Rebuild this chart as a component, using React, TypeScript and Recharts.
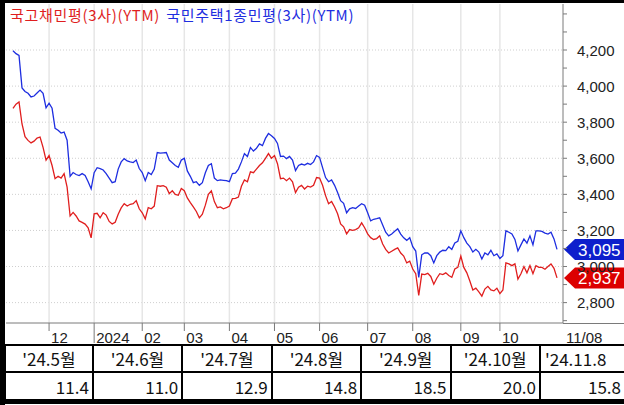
import { LineChart, Line, XAxis, YAxis, CartesianGrid, ReferenceDot } from 'recharts'

// 국고채 / 국민주택1종 민평 3사 YTM, one value per observation
const blueYtm = [
  4196, 4180, 4170, 3990, 3970, 3960, 3940, 3945, 3962, 3978, 3960, 3880, 3905, 3877, 3766, 3755,
  3740, 3745, 3700, 3500, 3521, 3510, 3504, 3515, 3505, 3470, 3431, 3520, 3548, 3543, 3535, 3515,
  3490, 3465, 3470, 3540, 3580, 3598, 3585, 3580, 3576, 3590, 3543, 3521, 3476, 3521, 3510, 3540,
  3632, 3628, 3630, 3632, 3590, 3575, 3560, 3550, 3590, 3600, 3530, 3500, 3465, 3470, 3450, 3465,
  3520, 3560, 3570, 3490, 3476, 3480, 3478, 3476, 3470, 3515, 3518, 3540, 3580, 3626, 3610, 3660,
  3640, 3655, 3680, 3670, 3710, 3737, 3725, 3710, 3682, 3610, 3612, 3598, 3610, 3590, 3532, 3560,
  3568, 3562, 3572, 3565, 3580, 3615, 3605, 3548, 3493, 3470, 3480, 3450, 3410, 3365, 3350, 3298,
  3320, 3326, 3322, 3335, 3348, 3340, 3298, 3253, 3262, 3265, 3270, 3230, 3190, 3170, 3180, 3195,
  3209, 3180, 3159, 3145, 3160, 3110, 3086, 2940, 3065, 3075, 3075, 3060, 3020, 3060, 3080, 3090,
  3088, 3110, 3095, 3131, 3140, 3198, 3160, 3130, 3110, 3080, 3095, 3080, 3042, 3075, 3065, 3090,
  3060, 3070, 3045, 3060, 3198, 3190, 3180, 3150, 3086, 3120, 3153, 3130, 3170, 3120, 3198, 3198,
  3195, 3185, 3180, 3190, 3153, 3095
]
const redYtm = [
  3877, 3900, 3912, 3790, 3720, 3699, 3685, 3695, 3712, 3718, 3660, 3590, 3615, 3560, 3487, 3500,
  3490, 3515, 3440, 3280, 3300, 3280, 3253, 3245, 3235, 3215, 3159, 3292, 3295, 3270, 3298, 3285,
  3250, 3236, 3245, 3290, 3325, 3348, 3335, 3345, 3348, 3365, 3320, 3298, 3264, 3326, 3320, 3335,
  3448, 3445, 3448, 3440, 3404, 3420, 3400, 3395, 3432, 3420, 3380, 3354, 3330, 3305, 3270, 3290,
  3340, 3400, 3420, 3360, 3326, 3330, 3320, 3326, 3335, 3376, 3378, 3385, 3445, 3480, 3470, 3525,
  3520, 3540, 3560, 3575, 3600, 3626, 3600, 3615, 3570, 3487, 3490, 3476, 3490, 3470, 3410, 3440,
  3450, 3430, 3445, 3440, 3450, 3493, 3490, 3450, 3393, 3348, 3360, 3330, 3292, 3236, 3220, 3181,
  3205, 3200, 3205, 3215, 3242, 3215, 3181, 3160, 3150, 3155, 3170, 3125, 3095, 3075, 3085, 3095,
  3103, 3075, 3058, 3020, 3030, 2986, 2960, 2840, 2958, 2955, 2962, 2945, 2902, 2935, 2960, 2955,
  2965, 2950, 2940, 2986, 2995, 3058, 2995, 2965, 2920, 2870, 2880, 2860, 2836, 2875, 2890, 2870,
  2865, 2880, 2850, 2870, 3020, 3015, 3005, 3015, 2930, 2960, 3000, 2965, 3005, 2960, 3005, 2995,
  2995, 2985, 3000, 3014, 2990, 2937
]

// index of the first observation in each month, and its label
const monthIdx = [12, 27, 43, 57, 72, 87, 102, 118, 133, 149, 162]
const monthLabels = ['12', '2024', '02', '03', '04', '05', '06', '07', '08', '09', '10']
const endLabel = '11/08'

const yMajor = [2800, 3000, 3200, 3400, 3600, 3800, 4000, 4200]
const yMinor = [2700, 2800, 2900, 3000, 3100, 3200, 3300, 3400, 3500, 3600, 3700, 3800, 3900, 4000, 4100, 4200, 4300, 4400]

const legendRed = '국고채민평(3사)(YTM)'
const legendBlue = '국민주택1종민평(3사)(YTM)'

const tableHeads = ["'24.5월", "'24.6월", "'24.7월", "'24.8월", "'24.9월", "'24.10월", "'24.11.8"]
const tableValues = ['11.4', '11.0', '12.9', '14.8', '18.5', '20.0', '15.8']

const RED = '#e01e1e'
const BLUE = '#1e2ee0'
const AXIS = '#7a7a7a'
const NARROW = '"Liberation Sans Narrow", "Liberation Sans", Arial, sans-serif'
const KR = '"Noto Sans CJK KR", "Noto Sans", sans-serif'

const lastIdx = blueYtm.length - 1
const data = blueYtm.map((b, i) => ({ i, blue: b, red: redYtm[i] }))

function MonthTick(props: any) {
  const { x, y, payload } = props
  const k = monthIdx.indexOf(payload.value)
  if (k < 0) {
    return (
      <text x={x + 9} y={y + 14} fontSize={15} fontFamily={NARROW} fill="#222" dominantBaseline="central">
        {endLabel}
      </text>
    )
  }
  const len = monthLabels[k] === '2024' ? 20 : 8
  return (
    <g>
      <line x1={x} x2={x} y1={y} y2={y + len} stroke={AXIS} />
      <text x={x + 2} y={y + 14} fontSize={15} fontFamily={NARROW} fill="#222" dominantBaseline="central">
        {monthLabels[k]}
      </text>
    </g>
  )
}

function PriceTick(props: any) {
  const { x, y, payload } = props
  const v = payload.value
  const major = yMajor.includes(v)
  return (
    <g>
      <line x1={x} x2={x + 4} y1={y} y2={y} stroke={AXIS} />
      {major && (
        <text x={x + 14} y={y} fontSize={15} fontFamily={NARROW} fill="#222" dominantBaseline="central">
          {v.toLocaleString('en-US')}
        </text>
      )}
    </g>
  )
}

function makeTag(color: string, value: number) {
  return (p: any) => {
    const { cx, cy } = p
    const l = cx + 7
    return (
      <g>
        <polygon
          points={`${l},${cy} ${l + 11},${cy - 10.5} ${l + 62},${cy - 10.5} ${l + 62},${cy + 10.5} ${l + 11},${cy + 10.5}`}
          fill={color}
        />
        <text x={l + 14} y={cy + 1} fontSize={17} fontFamily={NARROW} fill="#fff" dominantBaseline="central">
          {value.toLocaleString('en-US')}
        </text>
      </g>
    )
  }
}

export default function App() {
  const blueLast = blueYtm[lastIdx]
  const redLast = redYtm[lastIdx]
  return (
    <div style={{ position: 'absolute', left: 0, top: 0, width: 624, height: 405, background: '#fff', overflow: 'hidden' }}>
      <LineChart width={624} height={345} data={data} margin={{ top: 4, right: 0, left: 6, bottom: 0 }}>
        <CartesianGrid vertical={false} horizontalValues={yMajor} stroke="#cfcfcf" strokeDasharray="1 2" />
        <CartesianGrid horizontal={false} verticalValues={monthIdx} stroke="#e6e6e6" strokeWidth={1.5} />
        <XAxis
          dataKey="i"
          type="number"
          domain={[0, lastIdx]}
          ticks={[...monthIdx, lastIdx]}
          padding={{ left: 7, right: 6 }}
          height={22}
          tickSize={0}
          tickMargin={0}
          tickLine={false}
          axisLine={{ stroke: AXIS }}
          tick={<MonthTick />}
          interval={0}
        />
        <YAxis
          orientation="right"
          type="number"
          domain={[2687, 4455]}
          ticks={yMinor}
          width={61}
          tickSize={0}
          tickMargin={0}
          tickLine={false}
          axisLine={{ stroke: AXIS }}
          tick={<PriceTick />}
          interval={0}
        />
        <Line dataKey="blue" stroke={BLUE} strokeWidth={1.3} dot={false} isAnimationActive={false} />
        <Line dataKey="red" stroke={RED} strokeWidth={1.3} dot={false} isAnimationActive={false} />
        <ReferenceDot x={lastIdx} y={blueLast} ifOverflow="visible" shape={makeTag('#0d1fcc', blueLast)} />
        <ReferenceDot x={lastIdx} y={redLast} ifOverflow="visible" shape={makeTag('#dc0000', redLast)} />
      </LineChart>

      {/* axis line continues under the price labels */}
      <div style={{ position: 'absolute', left: 563, top: 322.5, width: 61, height: 1, background: AXIS }} />

      <div style={{ position: 'absolute', left: 10, top: 5, fontFamily: KR, fontSize: 15, lineHeight: '20px', letterSpacing: 0.7, whiteSpace: 'nowrap' }}>
        <span style={{ color: RED }}>{legendRed}</span>
        <span style={{ color: BLUE, marginLeft: 6 }}>{legendBlue}</span>
      </div>

      <table
        style={{
          position: 'absolute', left: 4, top: 344, borderCollapse: 'collapse', tableLayout: 'fixed',
          fontFamily: KR, fontSize: 17, color: '#111'
        }}
      >
        <colgroup>
          {tableHeads.map((h, k) => <col key={h} style={{ width: k === 0 ? 88 : k === 6 ? 84 : 89.6 }} />)}
        </colgroup>
        <tbody>
          <tr>
            {tableHeads.map((h, k) => (
              <td
                key={h}
                style={{
                  height: 25, padding: 0, border: '2px solid #000', borderRight: k === 6 ? 'none' : '2px solid #000',
                  textAlign: k === 6 ? 'left' : 'center', paddingLeft: k === 6 ? 4 : 0, whiteSpace: 'nowrap', overflow: 'hidden'
                }}
              >
                {h}
              </td>
            ))}
          </tr>
          <tr>
            {tableValues.map((v, k) => (
              <td
                key={k}
                style={{
                  height: 26, padding: 0, paddingRight: 3, border: '2px solid #000', borderBottom: '5px solid #000',
                  borderRight: k === 6 ? 'none' : '2px solid #000', textAlign: 'right'
                }}
              >
                {v}
              </td>
            ))}
          </tr>
        </tbody>
      </table>

      <div style={{ position: 'absolute', left: 0, top: 0, width: 5, height: 405, background: '#000' }} />
      <div style={{ position: 'absolute', left: 0, top: 0, width: 624, height: 3, background: '#000' }} />
    </div>
  )
}
